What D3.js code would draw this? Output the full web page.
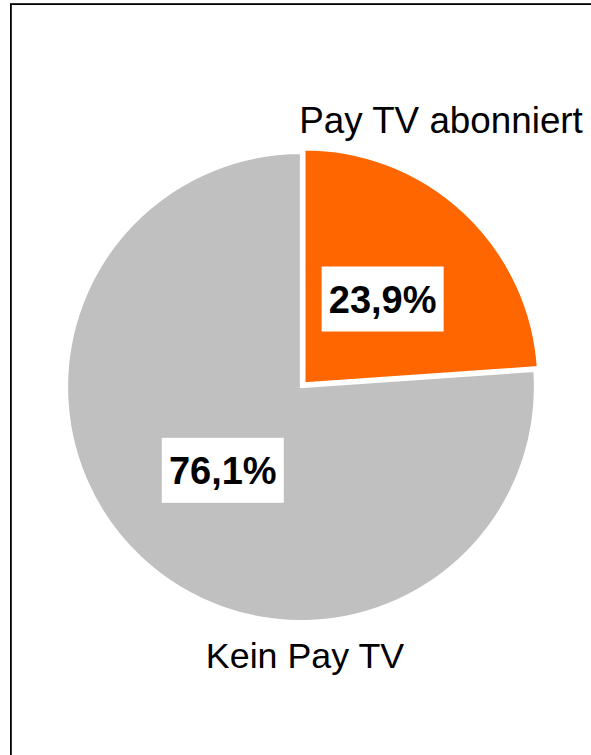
<!DOCTYPE html>
<html>
<head>
<meta charset="utf-8">
<script src="https://cdn.jsdelivr.net/npm/d3@7"></script>
<style>
  html, body { margin: 0; padding: 0; background: #fff; }
  svg { display: block; }
</style>
</head>
<body>
<div id="chart"></div>
<script>
// data
const categories = ["Pay TV abonniert", "Kein Pay TV"];
const shares = [23.9, 76.1];
const valueLabels = ["23,9%", "76,1%"];
const sliceColors = ["#ff6600", "#c0c0c0"];

// layout
const width = 591;
const height = 755;
const center = { x: 301, y: 387 };
const radius = 234;
const explode = [5, 0];
// outer category labels, offset from the pie centre (Excel style placement)
const catOffsets = [{ dx: 140, dy: -254 }, { dx: 4, dy: 281 }];
const catSizes = [36.8, 35.8];

const svg = d3.select("#chart")
    .append("svg")
    .attr("width", width)
    .attr("height", height);

// frame (right and bottom edge run off the picture)
svg.append("rect")
    .attr("x", 10.9)
    .attr("y", 4.1)
    .attr("width", 620)
    .attr("height", 800)
    .attr("fill", "none")
    .attr("stroke", "#000")
    .attr("stroke-width", 1.8);

const pie = d3.pie().sort(null).value(d => d)(shares);
const arc = d3.arc().innerRadius(0).outerRadius(radius);
const labelArc = d3.arc().innerRadius(radius * 0.49).outerRadius(radius * 0.49);

const g = svg.append("g")
    .attr("transform", `translate(${center.x},${center.y})`);

const slices = g.selectAll("g.slice")
    .data(pie)
    .join("g")
    .attr("class", "slice")
    .attr("transform", (d, i) => {
        const a = (d.startAngle + d.endAngle) / 2;
        return `translate(${Math.sin(a) * explode[i]},${-Math.cos(a) * explode[i]})`;
    });

slices.append("path")
    .attr("d", arc)
    .attr("fill", (d, i) => sliceColors[i])
    .attr("stroke", "#fff")
    .attr("stroke-width", 2.2)
    .attr("stroke-linejoin", "miter");

// value labels in white boxes
slices.each(function(d, i) {
    const [cx, cy] = labelArc.centroid(d);
    const lg = d3.select(this).append("g")
        .attr("transform", `translate(${cx},${cy})`);
    lg.append("rect")
        .attr("x", -61)
        .attr("y", -33)
        .attr("width", 122)
        .attr("height", 65)
        .attr("fill", "#fff");
    lg.append("text")
        .attr("text-anchor", "middle")
        .attr("y", 13.5)
        .attr("font-family", "'Liberation Sans', Arial, sans-serif")
        .attr("font-weight", "bold")
        .attr("font-size", 38)
        .attr("fill", "#000")
        .text(valueLabels[i]);
});

// category labels
g.selectAll("text.cat")
    .data(categories)
    .join("text")
    .attr("class", "cat")
    .attr("x", (d, i) => catOffsets[i].dx)
    .attr("y", (d, i) => catOffsets[i].dy)
    .attr("text-anchor", "middle")
    .attr("font-family", "'Liberation Sans', Arial, sans-serif")
    .attr("font-size", (d, i) => catSizes[i])
    .attr("fill", "#000")
    .text(d => d);
</script>
</body>
</html>
